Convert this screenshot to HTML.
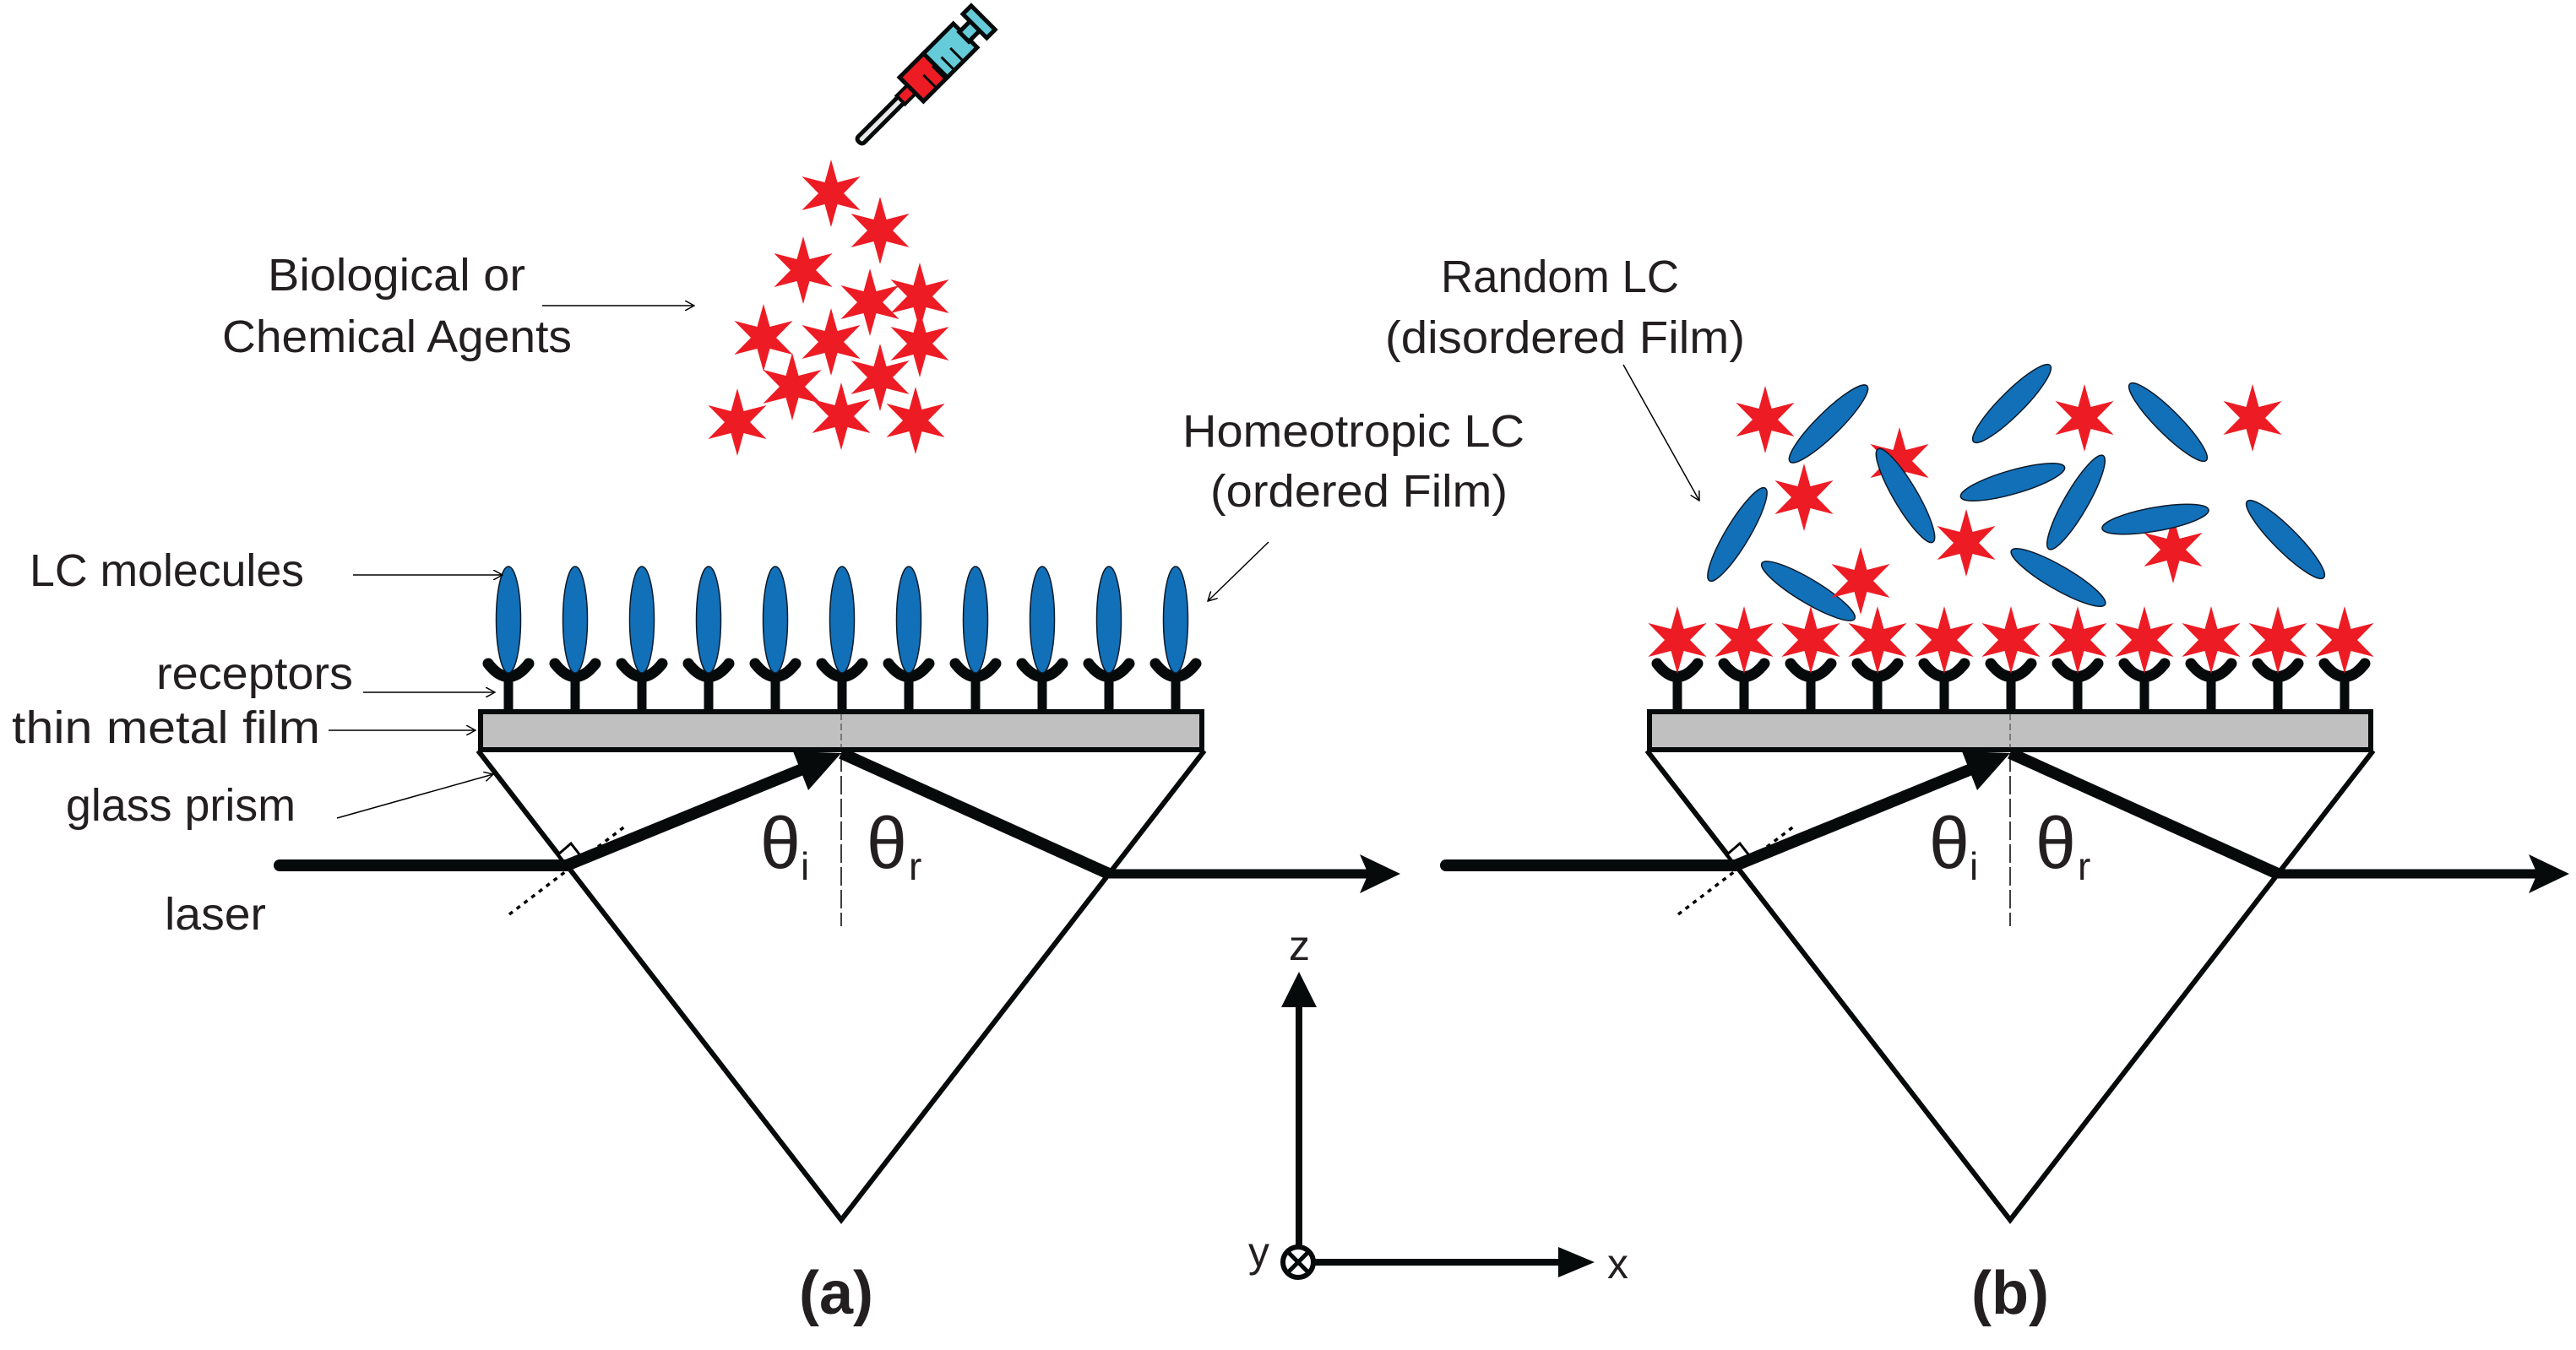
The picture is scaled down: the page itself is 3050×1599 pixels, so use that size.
<!DOCTYPE html>
<html><head><meta charset="utf-8"><style>
html,body{margin:0;padding:0;background:#fff;}
svg{display:block;}
text{font-family:"Liberation Sans",sans-serif;fill:#231f20;}
</style></head><body>
<svg width="3050" height="1599" viewBox="0 0 3050 1599" xmlns="http://www.w3.org/2000/svg">
<defs>
<polygon id="st" points="0,-40 7.5,-13 34.6,-20 15,0 34.6,20 7.5,13 0,40 -7.5,13 -34.6,20 -15,0 -34.6,-20 -7.5,-13" fill="#ed1c24"/>
<g id="rec"><path d="M-24,786 Q0,817 24,786" fill="none" stroke="#070a0b" stroke-width="13" stroke-linecap="round"/><line x1="0" y1="804" x2="0" y2="840" stroke="#070a0b" stroke-width="11"/></g>
<ellipse id="lc" cx="0" cy="734" rx="14.5" ry="63" fill="#1170b8" stroke="#0b1a2a" stroke-width="1.5"/>
<ellipse id="el" cx="0" cy="0" rx="64" ry="14" fill="#1170b8" stroke="#0b1a2a" stroke-width="1.5"/>
<marker id="ah" markerWidth="12" markerHeight="12" refX="11" refY="6" orient="auto" markerUnits="userSpaceOnUse"><path d="M0,0 L11,6 L0,12" fill="none" stroke="#000" stroke-width="1.5"/></marker>
<g id="panel">
<!-- film -->
<rect x="569" y="843" width="854" height="45" fill="#c0c0c0" stroke="#070a0b" stroke-width="6"/>
<line x1="996" y1="845" x2="996" y2="886" stroke="#333" stroke-width="1" stroke-dasharray="8 4"/>
<!-- prism -->
<polyline points="566,889 996,1445 1426,889" fill="none" stroke="#070a0b" stroke-width="6"/>
<!-- vertical dashed -->
<line x1="996" y1="892" x2="996" y2="1097" stroke="#000" stroke-width="1.5" stroke-dasharray="22 5"/>
<!-- dotted normal -->
<line x1="603" y1="1083" x2="741" y2="978" stroke="#000" stroke-width="3.5" stroke-dasharray="5 6"/>
<!-- right angle square -->
<polygon points="661,1012 676,999 690,1017 675,1030" fill="#fff" stroke="#000" stroke-width="3"/>
<!-- refracted beam -->
<line x1="671" y1="1025" x2="950" y2="911" stroke="#070a0b" stroke-width="14"/>
<polygon points="996,892 957,936 939,890" fill="#070a0b"/>
<!-- reflected beam -->
<line x1="996" y1="892" x2="1313" y2="1035" stroke="#070a0b" stroke-width="14"/>
<!-- exit beam -->
<line x1="1313" y1="1035" x2="1620" y2="1035" stroke="#070a0b" stroke-width="11"/>
<polygon points="1658,1035 1610,1012 1620,1035 1610,1058" fill="#070a0b"/>
<!-- theta labels -->
<text x="900" y="1028" font-size="86">θ</text>
<text x="948" y="1042" font-size="46">i</text>
<text x="1026" y="1028" font-size="86">θ</text>
<text x="1076" y="1042" font-size="46">r</text>
<!-- receptors -->
<use href="#rec" x="602"/><use href="#rec" x="681"/><use href="#rec" x="760"/><use href="#rec" x="839"/><use href="#rec" x="918"/><use href="#rec" x="997"/><use href="#rec" x="1076"/><use href="#rec" x="1155"/><use href="#rec" x="1234"/><use href="#rec" x="1313"/><use href="#rec" x="1392"/>
</g>
</defs>

<!-- Panel a -->
<use href="#panel"/>
<line x1="331" y1="1025" x2="671" y2="1025" stroke="#070a0b" stroke-width="14" stroke-linecap="round"/>
<use href="#lc" x="602"/><use href="#lc" x="681"/><use href="#lc" x="760"/><use href="#lc" x="839"/><use href="#lc" x="918"/><use href="#lc" x="997"/><use href="#lc" x="1076"/><use href="#lc" x="1155"/><use href="#lc" x="1234"/><use href="#lc" x="1313"/><use href="#lc" x="1392"/>

<!-- syringe -->
<g transform="translate(1017,168) rotate(-45)">
<rect x="0" y="-5" width="72" height="10" rx="4" fill="#e8e8e8" stroke="#070a0b" stroke-width="5"/>
<rect x="70" y="-7" width="20" height="14" fill="#ed1c24" stroke="#070a0b" stroke-width="4"/>
<rect x="88" y="-20" width="42" height="40" fill="#ed1c24" stroke="#070a0b" stroke-width="5"/>
<rect x="128" y="-20" width="50" height="40" fill="#66cbd8" stroke="#070a0b" stroke-width="5"/>
<rect x="176" y="-8" width="20" height="16" fill="#66cbd8" stroke="#070a0b" stroke-width="5"/>
<rect x="194" y="-20" width="14" height="40" fill="#66cbd8" stroke="#070a0b" stroke-width="5"/>
<line x1="110" y1="-2" x2="110" y2="20" stroke="#070a0b" stroke-width="3"/>
<line x1="125" y1="-2" x2="125" y2="20" stroke="#070a0b" stroke-width="3"/>
<line x1="140" y1="-2" x2="140" y2="20" stroke="#070a0b" stroke-width="3"/>
<line x1="155" y1="-2" x2="155" y2="20" stroke="#070a0b" stroke-width="3"/>
</g>

<!-- agent stars -->
<use href="#st" x="984" y="229"/><use href="#st" x="1042" y="273"/><use href="#st" x="951" y="320"/><use href="#st" x="1030" y="358"/><use href="#st" x="1089" y="351"/><use href="#st" x="904" y="400"/><use href="#st" x="984" y="405"/><use href="#st" x="1089" y="407"/><use href="#st" x="1042" y="447"/><use href="#st" x="938" y="458"/><use href="#st" x="873" y="500"/><use href="#st" x="996" y="493"/><use href="#st" x="1084" y="498"/>

<!-- labels a -->
<text x="317" y="344" font-size="54" textLength="305" lengthAdjust="spacingAndGlyphs">Biological or</text>
<text x="263" y="417" font-size="54" textLength="414" lengthAdjust="spacingAndGlyphs">Chemical Agents</text>
<line x1="642" y1="362" x2="822" y2="362" stroke="#000" stroke-width="1.5" marker-end="url(#ah)"/>
<text x="35" y="694" font-size="54" textLength="325" lengthAdjust="spacingAndGlyphs">LC molecules</text>
<line x1="418" y1="681" x2="595" y2="681" stroke="#000" stroke-width="1.5" marker-end="url(#ah)"/>
<text x="185" y="816" font-size="54" textLength="233" lengthAdjust="spacingAndGlyphs">receptors</text>
<line x1="430" y1="820" x2="586" y2="820" stroke="#000" stroke-width="1.5" marker-end="url(#ah)"/>
<text x="14" y="880" font-size="54" textLength="365" lengthAdjust="spacingAndGlyphs">thin metal film</text>
<line x1="389" y1="865" x2="563" y2="865" stroke="#000" stroke-width="1.5" marker-end="url(#ah)"/>
<text x="78" y="972" font-size="54" textLength="272" lengthAdjust="spacingAndGlyphs">glass prism</text>
<line x1="399" y1="969" x2="584" y2="917" stroke="#000" stroke-width="1.5" marker-end="url(#ah)"/>
<text x="195" y="1101" font-size="54" textLength="120" lengthAdjust="spacingAndGlyphs">laser</text>
<text x="1400" y="529" font-size="54" textLength="405" lengthAdjust="spacingAndGlyphs">Homeotropic LC</text>
<text x="1433" y="600" font-size="54" textLength="352" lengthAdjust="spacingAndGlyphs">(ordered Film)</text>
<line x1="1502" y1="642" x2="1430" y2="712" stroke="#000" stroke-width="1.5" marker-end="url(#ah)"/>
<text x="990" y="1556" font-size="72" font-weight="bold" text-anchor="middle">(a)</text>

<!-- Panel b -->
<g transform="translate(1384,0)"><use href="#panel"/></g>
<line x1="1712" y1="1025" x2="2055" y2="1025" stroke="#070a0b" stroke-width="14" stroke-linecap="round"/>
<g fill="none">
<use href="#el" transform="translate(2165,502) rotate(-44.6)"/>
<use href="#el" transform="translate(2057,633) rotate(-59)"/>
<use href="#el" transform="translate(2141,700) rotate(31)"/>
<use href="#st" x="2249" y="546"/>
<use href="#el" transform="translate(2256,587) rotate(59.5)"/>
<use href="#el" transform="translate(2382,478) rotate(-45)"/>
<use href="#el" transform="translate(2383,571) rotate(-16)"/>
<use href="#el" transform="translate(2458,595) rotate(-60)"/>
<use href="#el" transform="translate(2437,684) rotate(30)"/>
<use href="#el" transform="translate(2567,500) rotate(45)"/>
<use href="#st" x="2573" y="651"/>
<use href="#el" transform="translate(2552,615) rotate(-10)"/>
<use href="#el" transform="translate(2706,639) rotate(45)"/>
</g>
<use href="#st" x="2090" y="497"/><use href="#st" x="2136" y="589"/><use href="#st" x="2203" y="688"/><use href="#st" x="2328" y="643"/><use href="#st" x="2468" y="495"/><use href="#st" x="2667" y="495"/>
<use href="#st" x="1986" y="758"/><use href="#st" x="2065" y="758"/><use href="#st" x="2144" y="758"/><use href="#st" x="2223" y="758"/><use href="#st" x="2302" y="758"/><use href="#st" x="2381" y="758"/><use href="#st" x="2460" y="758"/><use href="#st" x="2539" y="758"/><use href="#st" x="2618" y="758"/><use href="#st" x="2697" y="758"/><use href="#st" x="2776" y="758"/>
<text x="1706" y="346" font-size="54" textLength="282" lengthAdjust="spacingAndGlyphs">Random LC</text>
<text x="1640" y="418" font-size="54" textLength="426" lengthAdjust="spacingAndGlyphs">(disordered Film)</text>
<line x1="1922" y1="432" x2="2012" y2="593" stroke="#000" stroke-width="1.5" marker-end="url(#ah)"/>
<text x="2380" y="1556" font-size="72" font-weight="bold" text-anchor="middle">(b)</text>

<!-- axes -->
<line x1="1538" y1="1185" x2="1538" y2="1478" stroke="#070a0b" stroke-width="8"/>
<polygon points="1538,1151 1517,1193 1559,1193" fill="#070a0b"/>
<circle cx="1537" cy="1495" r="18" fill="#fff" stroke="#070a0b" stroke-width="6"/>
<line x1="1526" y1="1484" x2="1548" y2="1506" stroke="#070a0b" stroke-width="5"/>
<line x1="1548" y1="1484" x2="1526" y2="1506" stroke="#070a0b" stroke-width="5"/>
<line x1="1555" y1="1495" x2="1850" y2="1495" stroke="#070a0b" stroke-width="8"/>
<polygon points="1888,1495 1845,1477 1845,1513" fill="#070a0b"/>
<text x="1526" y="1137" font-size="50">z</text>
<text x="1903" y="1514" font-size="50">x</text>
<text x="1478" y="1500" font-size="50">y</text>
</svg>
</body></html>
